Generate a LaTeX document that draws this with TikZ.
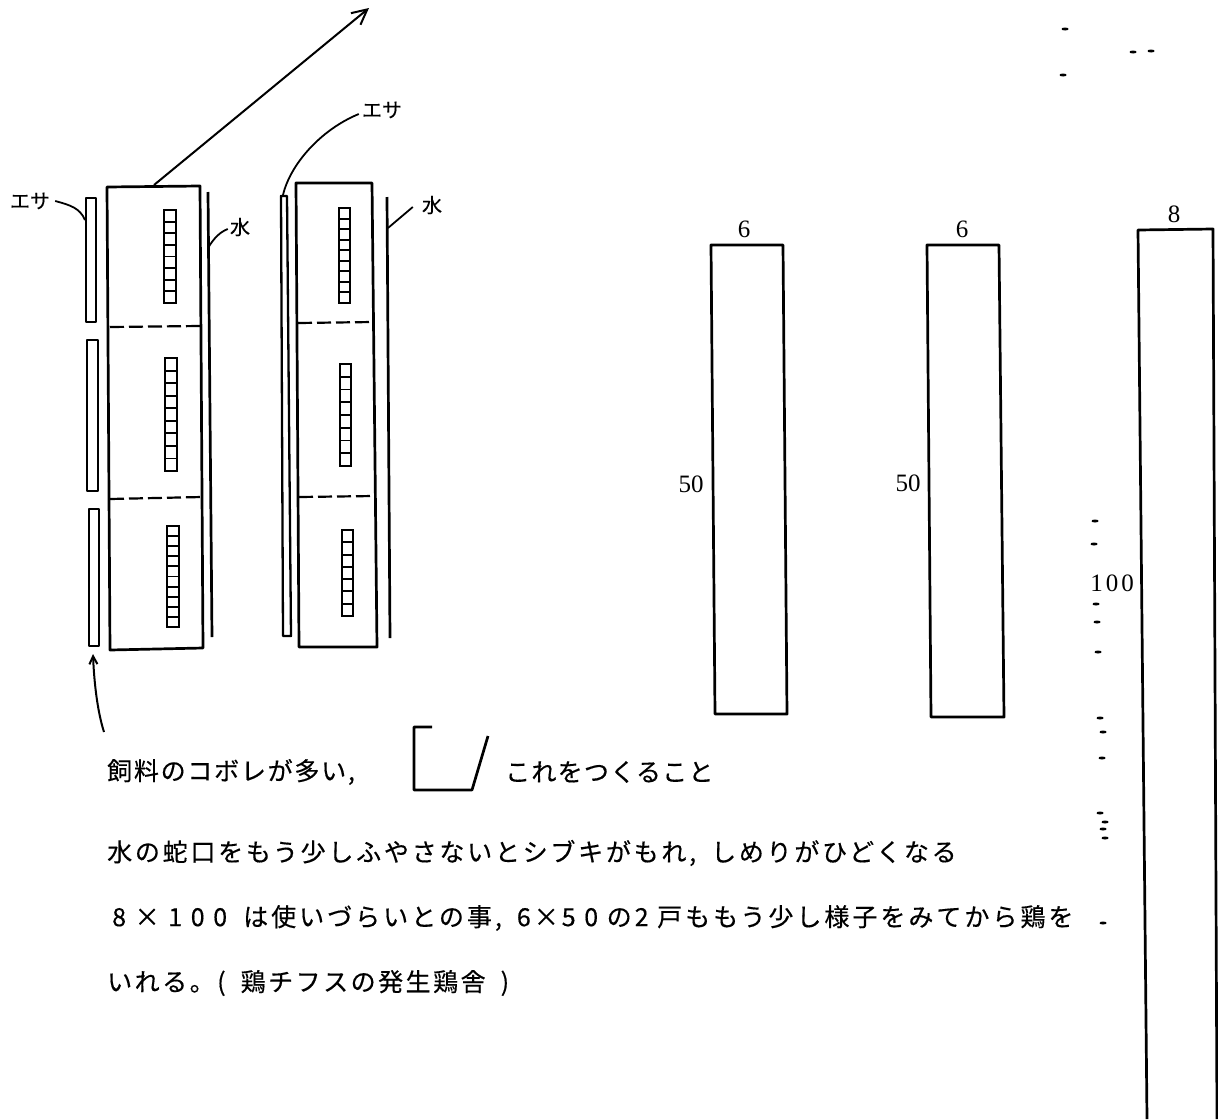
\documentclass[tikz,border=0pt]{standalone}
\usepackage{xcolor}
\usepackage{fontspec}
\setmainfont{Liberation Serif}
\newfontfamily\cjk{Noto Sans CJK JP}
\usetikzlibrary{positioning, calc, arrows.meta}

\begin{document}
\begin{tikzpicture}[
    x=1pt, y=-1pt,
    wall/.style={line width=2.7pt, line join=round},
    thinwall/.style={line width=2.3pt, line join=round},
    partition/.style={line width=2.2pt, dash pattern=on 14pt off 5pt},
    leader/.style={line width=1.8pt},
    arrow/.style={-{Straight Barb[length=#1, width=#1]}, line width=2pt},
    cell/.style={line width=1.9pt},
    label/.style={inner sep=0pt, font=\fontsize{20}{22}\selectfont\cjk\addfontfeature{FakeBold=0.4}},
    dim/.style={inner sep=0pt, font=\fontsize{25}{28}\selectfont},
    note/.style={inner sep=0pt, anchor=west, font=\fontsize{25}{28}\selectfont\cjk\addfontfeature{LetterSpace=#1, FakeBold=0.4}}
]
\useasboundingbox (0,0) rectangle (1218,1119);

% Left pen
\draw[wall] (107,187) -- (200,186) -- (203,648) -- (110,650) -- cycle;
\draw[partition] (110,327) -- (200,326);
\draw[partition] (110,499) -- (202,497);
\draw[thinwall] (86,198) rectangle (96,322);
\draw[thinwall] (87,340) rectangle (98,491);
\draw[thinwall] (89,509) rectangle (99,646);
\draw[wall] (208,192) -- (212,637);

% Right pen
\draw[wall] (296,183) -- (372,183) -- (377,647) -- (299,647) -- cycle;
\draw[partition] (298,323) -- (373,322);
\draw[partition] (299,497) -- (374,496);
\draw[thinwall] (281,196) -- (287,196) -- (291,636) -- (283,636) -- cycle;
\draw[wall] (387,197) -- (390,638);

% Feeder strips
\foreach \xa/\xb/\ya/\yb/\n in {164/176/210/303/8, 165/177/358/471/9, 167/179/526/627/10,
                                339/350/208/303/9, 340/351/364/466/8, 342/353/530/616/7} {
  \draw[cell] (\xa,\ya) rectangle (\xb,\yb);
  \foreach \i in {1,...,\n}
    \draw[cell] (\xa,{\ya+(\yb-\ya)*\i/\n}) -- (\xb,{\ya+(\yb-\ya)*\i/\n});
}

% Labels
\node[label] (feedA) at (30,201) {エサ};
\node[label] (feedB) at (382,110) {エサ};
\node[label] (waterA) at (240,227) {水};
\node[label] (waterB) at (432,205) {水};
\coordinate (troughA) at (85,220);
\coordinate (troughB) at (283,195);
\coordinate (lineA) at (208,248);
\coordinate (lineB) at (388,228);
\coordinate (penTop) at (154,185);
\coordinate (farEnd) at (369,8);
\coordinate (spillStart) at (104,732);
\coordinate (spillEnd) at (93,654);

% Arrows
\draw[leader] (feedA.east) ++(5,0) .. controls (70,205) and (80,208) .. (troughA);
\draw[leader] (feedB.west) ++(-3,4) .. controls (320,130) and (290,165) .. (troughB);
\draw[leader] (waterA.west) ++(-2,2) .. controls (220,232) and (214,238) .. (lineA);
\draw[leader] (waterB.west) ++(-9,2) -- (lineB);
\draw[arrow=15pt] (penTop) -- (farEnd);
\draw[arrow=8pt] (spillStart) .. controls (97,710) and (94,680) .. (spillEnd);

% Plan sketches with dimensions
\draw[wall] (711,245) -- (783,245) -- (787,714) -- (715,714) -- cycle;
\draw[wall] (927,245) -- (999,245) -- (1004,717) -- (931,717) -- cycle;
\draw[wall] (1147,1119) -- (1138,230) -- (1213,229) -- (1217,1119);
\node[dim] (widthA) at (744,229) {6};
\node[dim] (lengthA) at (691,484) {50};
\node[dim] (widthB) at (962,229) {6};
\node[dim] (lengthB) at (908,483) {50};
\node[dim] (widthC) at (1174,214) {8};
\node[dim] (lengthC) at (1112,583) {\addfontfeature{LetterSpace=12}100};

% Notes
\node[note=7] (noteA) at (107,772) {飼料のコボレが多い,};
\draw[wall] (432,727) -- (414,727) -- (414,790) -- (472,790) -- (488,736);
\node[note=5] (noteB) at (505,772) {これをつくること};
\node[note=11] (noteC) at (107,853) {水の蛇口をもう少しふやさないとシブキがもれ,\hspace{0.6em}しめりがひどくなる};
\node[note=12] (noteD) at (112,918) {8 × 1 0 0 \hspace{0.3em}は使いづらいとの事,\hspace{0.6em}6×5 0 の2 戸ももう少し様子をみてから鶏を};
\node[note=10] (noteE) at (107,983) {いれる。(\hspace{0.6em}鶏チフスの発生鶏舎\hspace{0.6em})};

% Specks
\foreach \sx/\sy in {1065/29, 1133/52, 1151/51, 1063/75, 1095/521, 1094/544, 1096/604, 1097/622,
                     1098/652, 1100/718, 1103/732, 1102/758, 1100/813, 1105/822, 1103/829, 1105/838, 1103/923}
  \fill (\sx,\sy) ellipse (3.5pt and 1.5pt);
\end{tikzpicture}
\end{document}
